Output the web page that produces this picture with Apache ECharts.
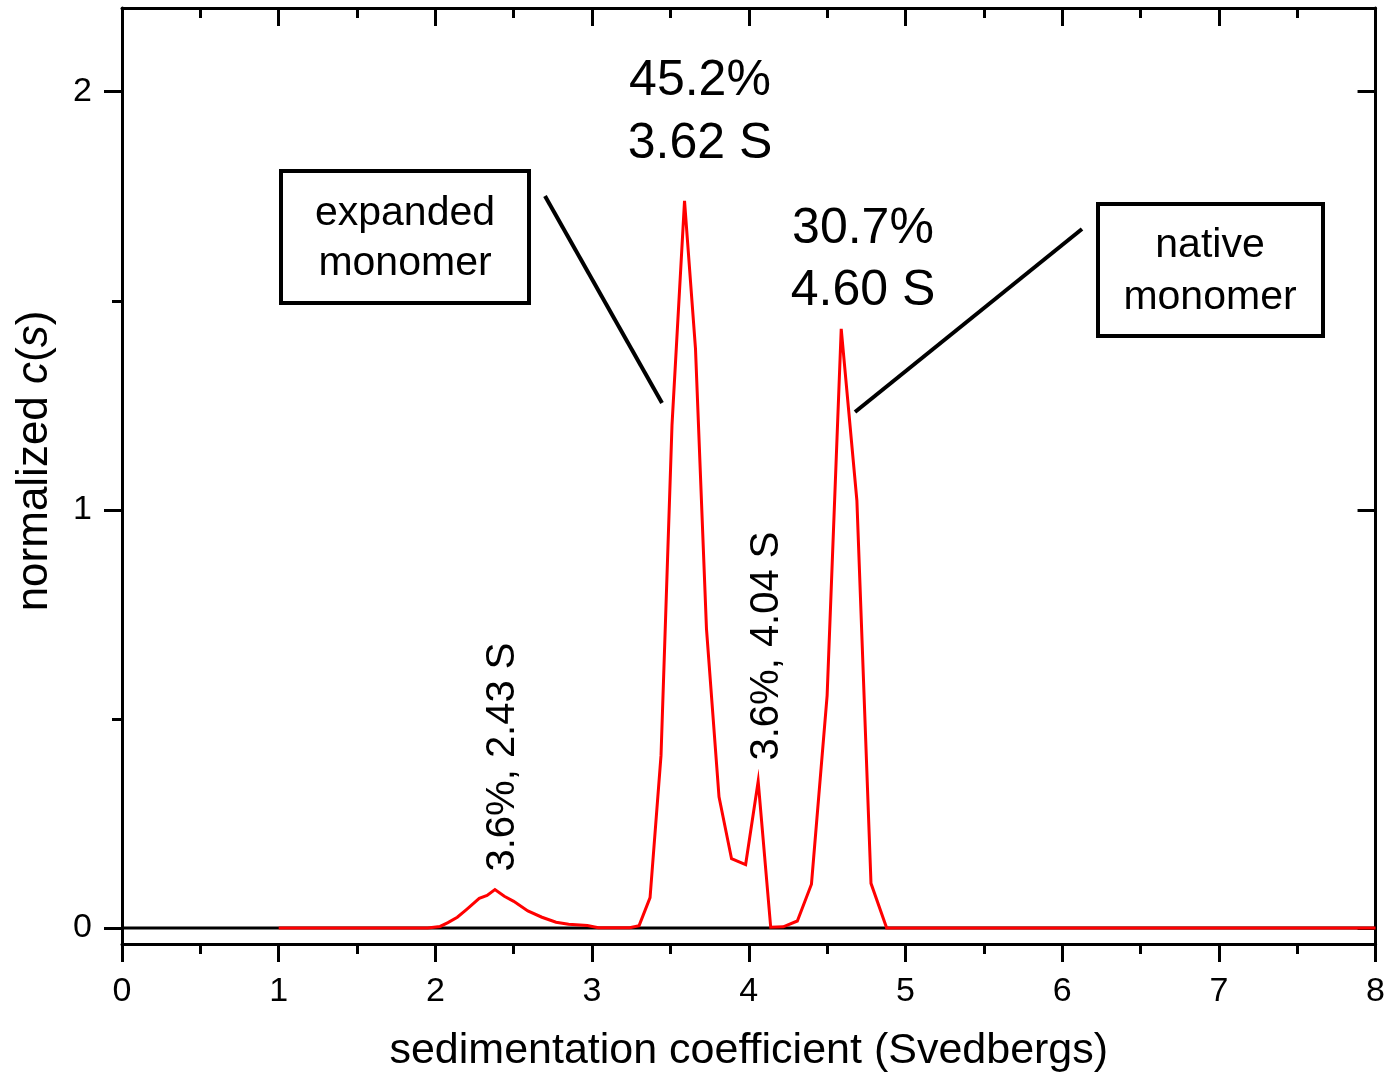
<!DOCTYPE html>
<html>
<head>
<meta charset="utf-8">
<title>normalized c(s)</title>
<script src="https://cdn.jsdelivr.net/npm/echarts@6/dist/echarts.min.js"></script>
<style>
  html, body { margin: 0; padding: 0; background: #fff; overflow: hidden; }
  #chart { width: 1388px; height: 1078px; }
</style>
</head>
<body>
<div id="chart"></div>
<script>
// sedimentation coefficient grid (S) and normalized c(s) distribution
const sValues = [1.00, 1.95, 2.03, 2.08, 2.14, 2.20, 2.28, 2.33, 2.38, 2.44, 2.50, 2.59,
  2.68, 2.77, 2.85, 2.97, 3.04, 3.24, 3.30, 3.37, 3.44, 3.51, 3.59, 3.66, 3.73, 3.81,
  3.89, 3.98, 4.06, 4.14, 4.22, 4.31, 4.40, 4.50, 4.59, 4.69, 4.78, 4.88, 8.00];
const cValues = [0, 0, 0.004, 0.013, 0.026, 0.045, 0.071, 0.078, 0.092, 0.076, 0.064, 0.041,
  0.026, 0.014, 0.009, 0.006, 0.001, 0.001, 0.006, 0.073, 0.413, 1.202, 1.739, 1.385, 0.716, 0.314,
  0.166, 0.152, 0.351, 0.002, 0.003, 0.017, 0.105, 0.556, 1.433, 1.022, 0.107, 0, 0];

const xTicks = [0, 1, 2, 3, 4, 5, 6, 7, 8];
const yMajorTicks = [0, 1, 2];
const yMinorTicks = [0.5, 1.5];
const zeroLine = [[0, 0], [8, 0]];

const FONT = '"Liberation Sans", Arial, Helvetica, sans-serif';
const AXIS_W = 3;

const curve = sValues.map((s, i) => [s, cValues[i]]);

const chart = echarts.init(document.getElementById('chart'), null, { renderer: 'canvas', width: 1388, height: 1078 });

const baseY = { type: 'value', min: -0.038, max: 2.2, splitLine: { show: false } };

chart.setOption({
  animation: false,
  backgroundColor: '#fff',
  grid: { left: 122, top: 8, width: 1256, height: 942, containLabel: false },
  xAxis: [
    {
      type: 'value', position: 'bottom', min: xTicks[0], max: xTicks[xTicks.length - 1], interval: 1,
      axisLine: { onZero: false, lineStyle: { color: '#000', width: AXIS_W } },
      axisTick: { inside: false, length: 18, lineStyle: { color: '#000', width: AXIS_W } },
      minorTick: { show: true, splitNumber: 2, length: 10, lineStyle: { color: '#000', width: AXIS_W } },
      splitLine: { show: false },
      axisLabel: { color: '#000', fontSize: 34, fontFamily: FONT, margin: 31 },
      name: 'sedimentation coefficient (Svedbergs)',
      nameLocation: 'middle', nameGap: 86,
      nameTextStyle: { color: '#000', fontSize: 43, fontFamily: FONT }
    },
    {
      type: 'value', position: 'top', min: xTicks[0], max: xTicks[xTicks.length - 1], interval: 1,
      axisLine: { onZero: false, lineStyle: { color: '#000', width: AXIS_W } },
      axisTick: { inside: true, length: 18, lineStyle: { color: '#000', width: AXIS_W } },
      minorTick: { show: true, splitNumber: 2, length: 10, lineStyle: { color: '#000', width: AXIS_W } },
      splitLine: { show: false },
      axisLabel: { show: false }
    }
  ],
  yAxis: [
    Object.assign({}, baseY, {
      position: 'left',
      axisLine: { onZero: false, lineStyle: { color: '#000', width: AXIS_W } },
      axisTick: { inside: false, length: 18, customValues: yMajorTicks, lineStyle: { color: '#000', width: AXIS_W } },
      axisLabel: { customValues: yMajorTicks, color: '#000', fontSize: 34, fontFamily: FONT, margin: 30 }
    }),
    Object.assign({}, baseY, {
      position: 'left',
      axisLine: { show: false },
      axisTick: { inside: false, length: 10, customValues: yMinorTicks, lineStyle: { color: '#000', width: AXIS_W } },
      axisLabel: { show: false }
    }),
    Object.assign({}, baseY, {
      position: 'right',
      axisLine: { onZero: false, lineStyle: { color: '#000', width: AXIS_W } },
      axisTick: { inside: true, length: 18, customValues: yMajorTicks, lineStyle: { color: '#000', width: AXIS_W } },
      axisLabel: { show: false }
    }),
    Object.assign({}, baseY, {
      position: 'right',
      axisLine: { show: false },
      axisTick: { inside: true, length: 10, customValues: yMinorTicks, lineStyle: { color: '#000', width: AXIS_W } },
      axisLabel: { show: false }
    })
  ],
  series: [
    {
      name: 'zero', type: 'line', data: zeroLine, symbol: 'none', clip: false,
      lineStyle: { color: '#000', width: 3 }, z: 2, silent: true
    },
    {
      name: 'c(s)', type: 'line', data: curve, symbol: 'none', clip: false,
      lineStyle: { color: '#ff0000', width: 3, join: 'miter' }, z: 3
    }
  ],
  graphic: [
    // y-axis title, with the c(s) symbol set in italics
    { type: 'text', x: 35, y: 461, rotation: Math.PI / 2, z: 11,
      style: {
        text: 'normalized {i|c}({i|s})', font: '44px ' + FONT, fill: '#000',
        textAlign: 'center', textVerticalAlign: 'middle',
        rich: { i: { fontStyle: 'italic', fontSize: 44, fontFamily: FONT, fill: '#000' } }
      } },
    { type: 'line', shape: { x1: 545, y1: 196, x2: 662, y2: 403 }, style: { stroke: '#000', lineWidth: 4 }, z: 10 },
    { type: 'line', shape: { x1: 1082, y1: 229, x2: 855, y2: 412 }, style: { stroke: '#000', lineWidth: 4 }, z: 10 },
    { type: 'rect', shape: { x: 281, y: 171, width: 248, height: 132 }, style: { fill: '#fff', stroke: '#000', lineWidth: 4 }, z: 10 },
    { type: 'text', x: 405, y: 239, z: 11,
      style: { text: 'expanded\nmonomer', font: '41px ' + FONT, fill: '#000', textAlign: 'center', textVerticalAlign: 'middle', lineHeight: 50 } },
    { type: 'rect', shape: { x: 1098, y: 204, width: 225, height: 132 }, style: { fill: '#fff', stroke: '#000', lineWidth: 4 }, z: 10 },
    { type: 'text', x: 1210, y: 272, z: 11,
      style: { text: 'native\nmonomer', font: '41px ' + FONT, fill: '#000', textAlign: 'center', textVerticalAlign: 'middle', lineHeight: 52 } },
    { type: 'text', x: 700, y: 113, z: 11,
      style: { text: '45.2%\n3.62 S', font: '50px ' + FONT, fill: '#000', textAlign: 'center', textVerticalAlign: 'middle', lineHeight: 63 } },
    { type: 'text', x: 863, y: 260, z: 11,
      style: { text: '30.7%\n4.60 S', font: '50px ' + FONT, fill: '#000', textAlign: 'center', textVerticalAlign: 'middle', lineHeight: 62 } },
    { type: 'text', x: 503, y: 757, rotation: Math.PI / 2, z: 11,
      style: { text: '3.6%, 2.43 S', font: '40px ' + FONT, fill: '#000', textAlign: 'center', textVerticalAlign: 'middle' } },
    { type: 'text', x: 767, y: 646, rotation: Math.PI / 2, z: 11,
      style: { text: '3.6%, 4.04 S', font: '40px ' + FONT, fill: '#000', textAlign: 'center', textVerticalAlign: 'middle' } }
  ]
});
</script>
</body>
</html>
